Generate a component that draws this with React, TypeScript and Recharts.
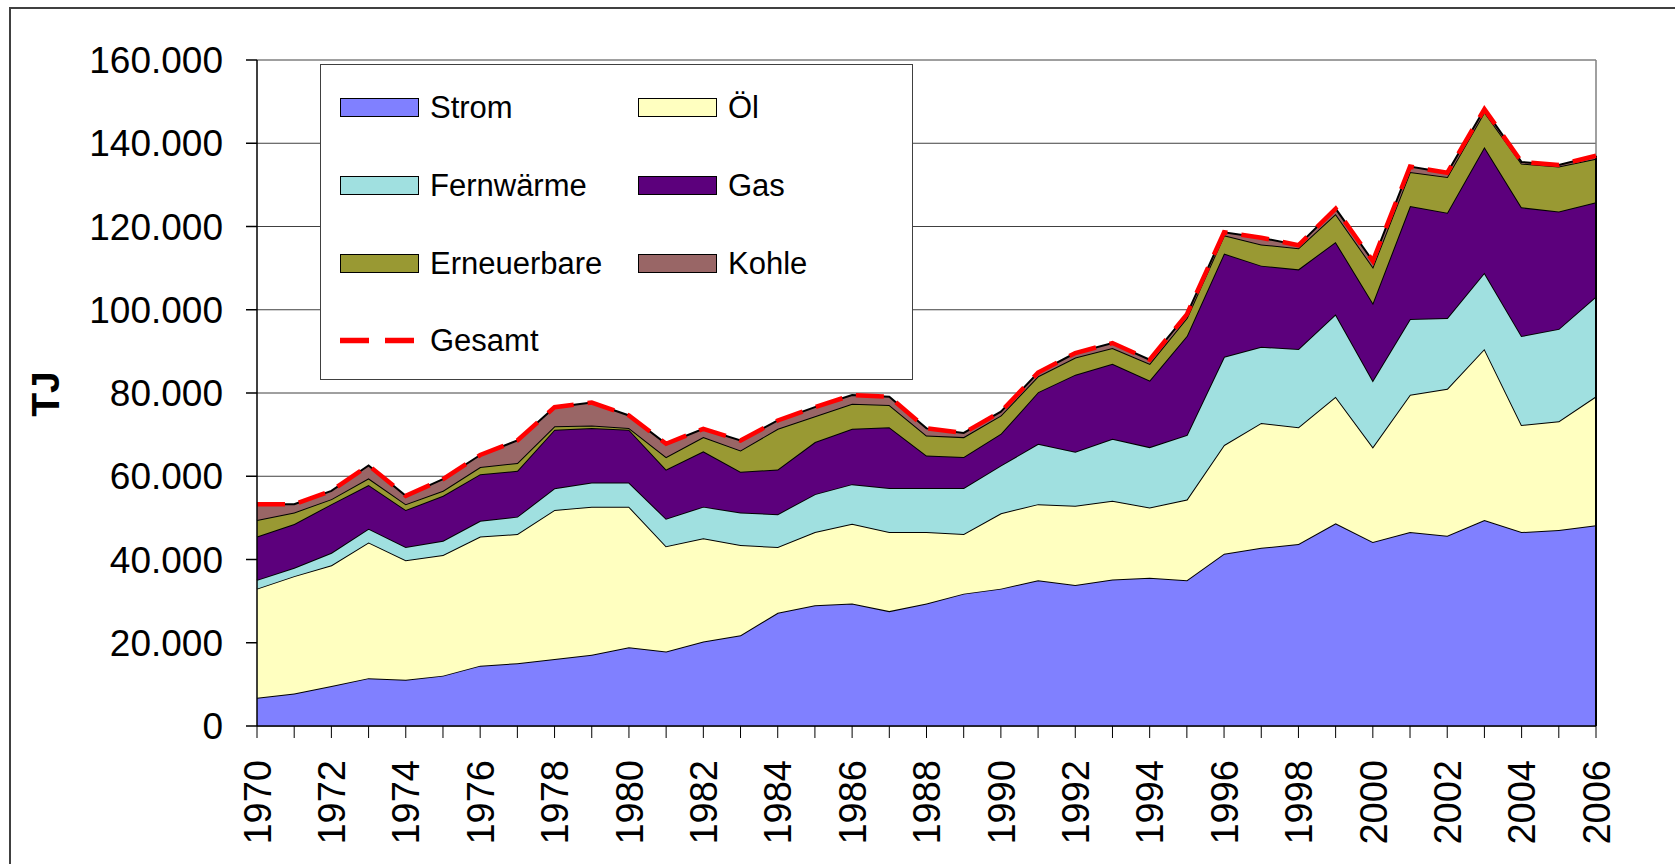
import React from 'react';
import { AreaChart, Area, Line, XAxis, YAxis, CartesianGrid, ReferenceLine } from 'recharts';

const years = [1970, 1971, 1972, 1973, 1974, 1975, 1976, 1977, 1978, 1979, 1980, 1981, 1982, 1983, 1984, 1985, 1986, 1987, 1988, 1989, 1990, 1991, 1992, 1993, 1994, 1995, 1996, 1997, 1998, 1999, 2000, 2001, 2002, 2003, 2004, 2005, 2006];

const strom = [6800, 7800, 9600, 11500, 11100, 12100, 14500, 15100, 16100, 17100, 18900, 17900, 20300, 21800, 27200, 29000, 29400, 27600, 29400, 31800, 33000, 35000, 33900, 35200, 35600, 35000, 41400, 42800, 43700, 48700, 44200, 46600, 45700, 49500, 46600, 47100, 48200];
const oel = [26200, 28200, 29000, 32600, 28700, 29000, 31000, 31000, 35800, 35600, 33800, 25300, 24800, 21700, 15800, 17600, 19200, 19000, 17200, 14300, 18100, 18300, 19000, 18900, 16900, 19400, 26100, 30000, 28100, 30400, 22800, 33000, 35300, 41100, 25700, 26100, 31000];
const fernwaerme = [2100, 2000, 3000, 3300, 3200, 3400, 3800, 4200, 5200, 5800, 5800, 6600, 7600, 7800, 7900, 9100, 9500, 10600, 10600, 11100, 11500, 14500, 13000, 14900, 14500, 15500, 21200, 18300, 18800, 19800, 16000, 18200, 17000, 18300, 21400, 22200, 24000];
const gas = [10400, 10500, 11700, 10500, 8900, 10800, 11200, 11000, 14100, 13100, 12700, 11800, 13300, 9800, 10700, 12500, 13300, 14600, 7800, 7400, 7600, 12400, 18500, 18000, 16000, 23800, 24800, 19500, 19100, 17400, 18600, 27100, 25300, 30200, 30900, 28200, 22600];
const erneuerbare = [4000, 2800, 1200, 1600, 1400, 1200, 1700, 1900, 800, 600, 400, 3000, 3400, 5100, 9800, 6200, 6000, 5300, 4800, 4800, 4400, 3800, 4100, 3800, 4000, 4300, 4400, 5100, 5100, 6700, 8700, 8200, 8600, 8400, 10500, 10800, 10500];
const kohle = [3800, 2000, 2000, 3100, 2000, 2800, 2900, 5400, 4600, 5500, 3000, 3200, 2000, 2400, 2000, 2200, 2100, 2000, 1700, 1000, 900, 900, 1100, 1200, 1000, 900, 700, 1600, 700, 1300, 1400, 1300, 1000, 700, 400, 400, 700];
const gesamt = [53300, 53300, 56500, 62600, 55300, 59300, 65100, 68600, 76600, 77700, 74600, 67800, 71400, 68600, 73400, 76600, 79500, 79100, 71500, 70400, 75500, 84900, 89600, 92000, 88000, 98900, 118600, 117300, 115500, 124300, 111700, 134400, 132900, 148200, 135500, 134800, 137000];

const yTicks = [0, 20000, 40000, 60000, 80000, 100000, 120000, 140000, 160000];

const seriesNames = ['Strom', 'Öl', 'Fernwärme', 'Gas', 'Erneuerbare', 'Kohle'];
const seriesKeys = ['strom', 'oel', 'fernwaerme', 'gas', 'erneuerbare', 'kohle'];
const seriesColors = ['#8080FF', '#FFFFC0', '#A0E0E0', '#5C007C', '#999933', '#996666'];
const totalName = 'Gesamt';
const axisTitle = 'TJ';

const data = years.map((year, i) => ({
  year,
  strom: strom[i],
  oel: oel[i],
  fernwaerme: fernwaerme[i],
  gas: gas[i],
  erneuerbare: erneuerbare[i],
  kohle: kohle[i],
  gesamt: gesamt[i],
}));

const FONT = '"Liberation Sans", Arial, Helvetica, sans-serif';

const fmt = (v: number) => String(v).replace(/\B(?=(\d{3})+(?!\d))/g, '.');

const XTick = (props: any) => {
  const { x, y, payload } = props;
  const v = payload.value;
  if (v % 2 !== 0) return <g />;
  return (
    <g transform={`translate(${x},${y + 22}) rotate(-90)`}>
      <text x={0} y={0} dy="0.36em" textAnchor="end" fontSize={38} fill="#000" fontFamily={FONT}>
        {v}
      </text>
    </g>
  );
};

const legendRows = [
  [0, 1],
  [2, 3],
  [4, 5],
];

export default function App() {
  return (
    <div style={{ position: 'absolute', left: 0, top: 0, width: 1675, height: 864, overflow: 'hidden', background: '#fff', fontFamily: FONT }}>
      <div style={{ position: 'absolute', left: 9, top: 7, width: 1666, height: 2, background: '#404040' }} />
      <div style={{ position: 'absolute', left: 9, top: 7, width: 2, height: 857, background: '#404040' }} />
      <div style={{ position: 'absolute', left: 0, top: 0 }}>
        <AreaChart width={1675} height={864} data={data} margin={{ top: 60, right: 79, bottom: 18, left: 57 }}>
          <CartesianGrid vertical={false} stroke="#404040" strokeWidth={1} />
          <XAxis
            dataKey="year"
            type="number"
            domain={[1970, 2006]}
            ticks={years}
            interval={0}
            height={120}
            tickSize={12}
            tickMargin={0}
            tick={<XTick />}
            stroke="#000"
            strokeWidth={1.5}
            tickLine={{ stroke: '#000', strokeWidth: 1 }}
          />
          <YAxis
            type="number"
            domain={[0, 160000]}
            ticks={yTicks}
            width={200}
            tickSize={11}
            tickMargin={23}
            tickFormatter={fmt}
            tick={{ fontSize: 37, fill: '#000', fontFamily: FONT }}
            stroke="#000"
            strokeWidth={1.5}
            interval={0}
          />
          <ReferenceLine x={2006} stroke="#808080" strokeWidth={1.5} />
          {seriesKeys.map((k, i) => (
            <Area
              key={k}
              type="linear"
              dataKey={k}
              name={seriesNames[i]}
              stackId="1"
              stroke="#000"
              strokeWidth={2}
              fill={seriesColors[i]}
              fillOpacity={1}
              isAnimationActive={false}
            />
          ))}
          <ReferenceLine segment={[{ x: 2006, y: 0 }, { x: 2006, y: gesamt[gesamt.length - 1] }]} stroke="#000" strokeWidth={2} />
          <Line
            type="linear"
            dataKey="gesamt"
            name={totalName}
            stroke="#FF0000"
            strokeWidth={4.5}
            strokeDasharray="28 14"
            dot={false}
            activeDot={false}
            isAnimationActive={false}
          />
        </AreaChart>
      </div>
      <svg style={{ position: 'absolute', left: 0, top: 0 }} width={120} height={864}>
        <text
          transform="translate(45,394) rotate(-90)"
          textAnchor="middle"
          dy="0.36em"
          fontSize={39}
          fontWeight="bold"
          fontFamily={FONT}
          fill="#000"
        >
          {axisTitle}
        </text>
      </svg>
      <div
        style={{
          position: 'absolute',
          left: 320,
          top: 64,
          width: 593,
          height: 316,
          border: '1.5px solid #404040',
          background: '#fff',
          boxSizing: 'border-box',
        }}
      >
        {legendRows.map((row, r) =>
          row.map((si, c) => (
            <div key={si} style={{ position: 'absolute', left: 19, top: 33 + r * 78, height: 19, display: 'flex', alignItems: 'center', transform: `translateX(${c === 0 ? 0 : 298}px)` }}>
              <div style={{ width: 79, height: 19, background: seriesColors[si], border: '1.5px solid #000', boxSizing: 'border-box' }} />
              <span style={{ marginLeft: 11, fontSize: 31, lineHeight: '19px', color: '#000', whiteSpace: 'nowrap' }}>{seriesNames[si]}</span>
            </div>
          ))
        )}
        <div style={{ position: 'absolute', left: 19, top: 266, height: 19, display: 'flex', alignItems: 'center' }}>
          <svg width={79} height={19}>
            <line x1={0} y1={9.5} x2={79} y2={9.5} stroke="#FF0000" strokeWidth={5.5} strokeDasharray="29 16" />
          </svg>
          <span style={{ marginLeft: 11, fontSize: 31, lineHeight: '19px', color: '#000', whiteSpace: 'nowrap' }}>{totalName}</span>
        </div>
      </div>
    </div>
  );
}
